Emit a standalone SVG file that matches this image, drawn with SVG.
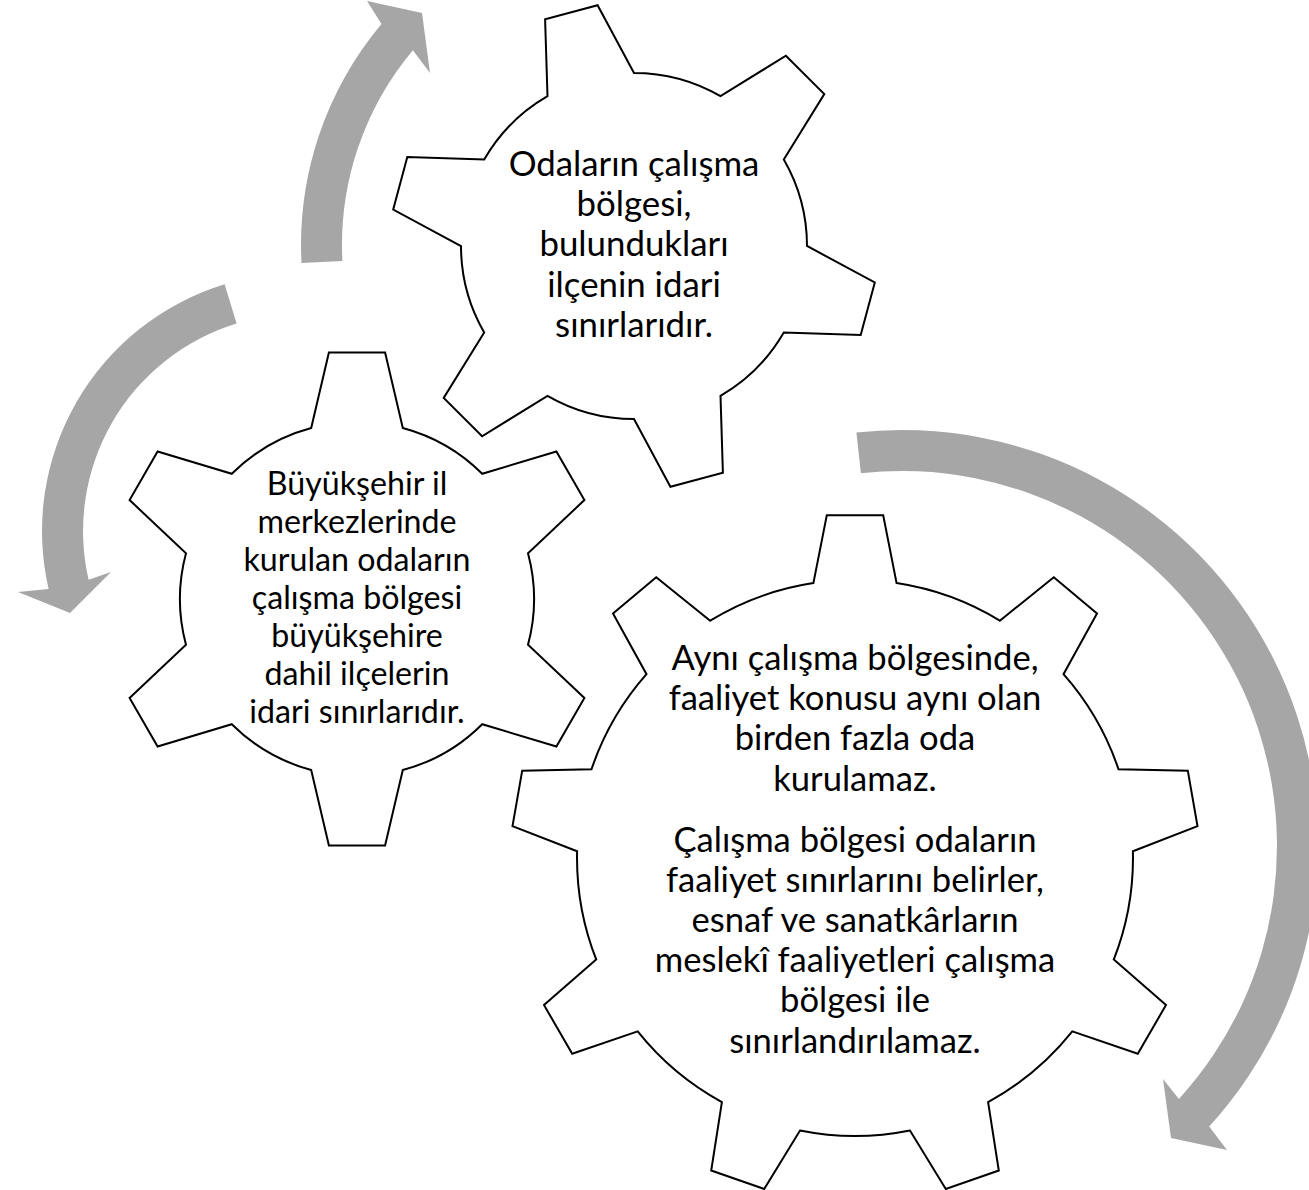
<svg xmlns="http://www.w3.org/2000/svg" width="1309" height="1190" viewBox="0 0 1309 1190">
<style>
.gear{fill:#ffffff;stroke:#000000;stroke-width:2;stroke-linejoin:miter}
.arrow{fill:#A6A6A6;stroke:none}
text{font-family:Lato,"Liberation Sans",sans-serif;fill:#000000;text-anchor:middle}
.t1{font-size:34.8px}
.t2{font-size:32.2px}
.t3{font-size:34.6px}
</style>
<rect width="1309" height="1190" fill="#ffffff"/>
<g id="connectors">
<path class="arrow" d="M 301.5 263 A 344 344 0 0 1 381.5 23.9 L 367 1 L 422 13 L 430 73 L 412.9 50.2 A 303 303 0 0 0 342.4 260.9 Z"/>
<path class="arrow" d="M 224.6 284.3 A 258 258 0 0 0 48.6 589 L 18 592 L 70 613 L 111 572 L 88.6 579.8 A 217 217 0 0 1 236.6 323.5 Z"/>
<path class="arrow" d="M 856.4 432.5 A 416 416 0 0 1 1209.2 1126.5 L 1227 1150 L 1171 1138 L 1163 1079 L 1178.9 1098.9 A 375 375 0 0 0 860.9 473.3 Z"/>
</g>
<g id="gear-top">
<path class="gear" d="M 547.5 96.2 L 545.1 19.3 L 597.6 5.2 L 634 73 A 173 173 0 0 1 720.5 96.2 L 785.9 55.7 L 824.3 94.1 L 783.8 159.5 A 173 173 0 0 1 807 246 L 874.8 282.4 L 860.7 334.9 L 783.8 332.5 A 173 173 0 0 1 720.5 395.8 L 722.9 472.7 L 670.4 486.8 L 634 419 A 173 173 0 0 1 547.5 395.8 L 482.1 436.3 L 443.7 397.9 L 484.2 332.5 A 173 173 0 0 1 461 246 L 393.2 209.6 L 407.3 157.1 L 484.2 159.5 A 173 173 0 0 1 547.5 96.2 Z"/>
<text class="t1"><tspan x="634" y="175.5">Odaların çalışma</tspan><tspan x="634" y="216">bölgesi,</tspan><tspan x="634" y="256">bulundukları</tspan><tspan x="634" y="296.5">ilçenin idari</tspan><tspan x="634" y="337">sınırlarıdır.</tspan></text>
</g>
<g id="gear-left">
<path class="gear" d="M 311.2 428 L 328.9 352.6 L 385.1 352.6 L 402.8 428 A 177 177 0 0 1 482.2 473.8 L 556.4 451.5 L 584.4 500.1 L 528 553.2 A 177 177 0 0 1 528 644.8 L 584.4 697.9 L 556.4 746.5 L 482.2 724.2 A 177 177 0 0 1 402.8 770 L 385.1 845.4 L 328.9 845.4 L 311.2 770 A 177 177 0 0 1 231.8 724.2 L 157.6 746.5 L 129.6 697.9 L 186 644.8 A 177 177 0 0 1 186 553.2 L 129.6 500.1 L 157.6 451.5 L 231.8 473.8 A 177 177 0 0 1 311.2 428 Z"/>
<text class="t2"><tspan x="357" y="495">Büyükşehir il</tspan><tspan x="357" y="533">merkezlerinde</tspan><tspan x="357" y="571">kurulan odaların</tspan><tspan x="357" y="609">çalışma bölgesi</tspan><tspan x="357" y="647">büyükşehire</tspan><tspan x="357" y="685">dahil ilçelerin</tspan><tspan x="357" y="723">idari sınırlarıdır.</tspan></text>
</g>
<g id="gear-big">
<path class="gear" d="M 813.4 583.1 L 826.8 515.2 L 883.2 515.2 L 896.6 583.1 A 278 278 0 0 1 999.8 620.7 L 1053.8 577.3 L 1097 613.5 L 1063.5 674.2 A 278 278 0 0 1 1118.5 769.3 L 1187.8 770.7 L 1197.5 826.2 L 1132.9 851.2 A 278 278 0 0 1 1113.8 959.4 L 1166 1005 L 1137.8 1053.8 L 1072.3 1031.4 A 278 278 0 0 1 988.1 1102.1 L 998.8 1170.5 L 945.8 1189 L 910 1130.5 A 278 278 0 0 1 800 1130.5 L 764.2 1189 L 711.2 1170.5 L 721.9 1102.1 A 278 278 0 0 1 637.7 1031.4 L 572.2 1053.8 L 544 1005 L 596.2 959.4 A 278 278 0 0 1 577.1 851.2 L 512.5 826.2 L 522.2 770.7 L 591.5 769.3 A 278 278 0 0 1 646.5 674.2 L 613 613.5 L 656.2 577.3 L 710.2 620.7 A 278 278 0 0 1 813.4 583.1 Z"/>
<text class="t3"><tspan x="855" y="670">Aynı çalışma bölgesinde,</tspan><tspan x="855" y="710">faaliyet konusu aynı olan</tspan><tspan x="855" y="750">birden fazla oda</tspan><tspan x="855" y="791">kurulamaz.</tspan><tspan x="855" y="852">Çalışma bölgesi odaların</tspan><tspan x="855" y="892">faaliyet sınırlarını belirler,</tspan><tspan x="855" y="932">esnaf ve sanatkârların</tspan><tspan x="855" y="972">meslekî faaliyetleri çalışma</tspan><tspan x="855" y="1012">bölgesi ile</tspan><tspan x="855" y="1053">sınırlandırılamaz.</tspan></text>
</g>
</svg>
